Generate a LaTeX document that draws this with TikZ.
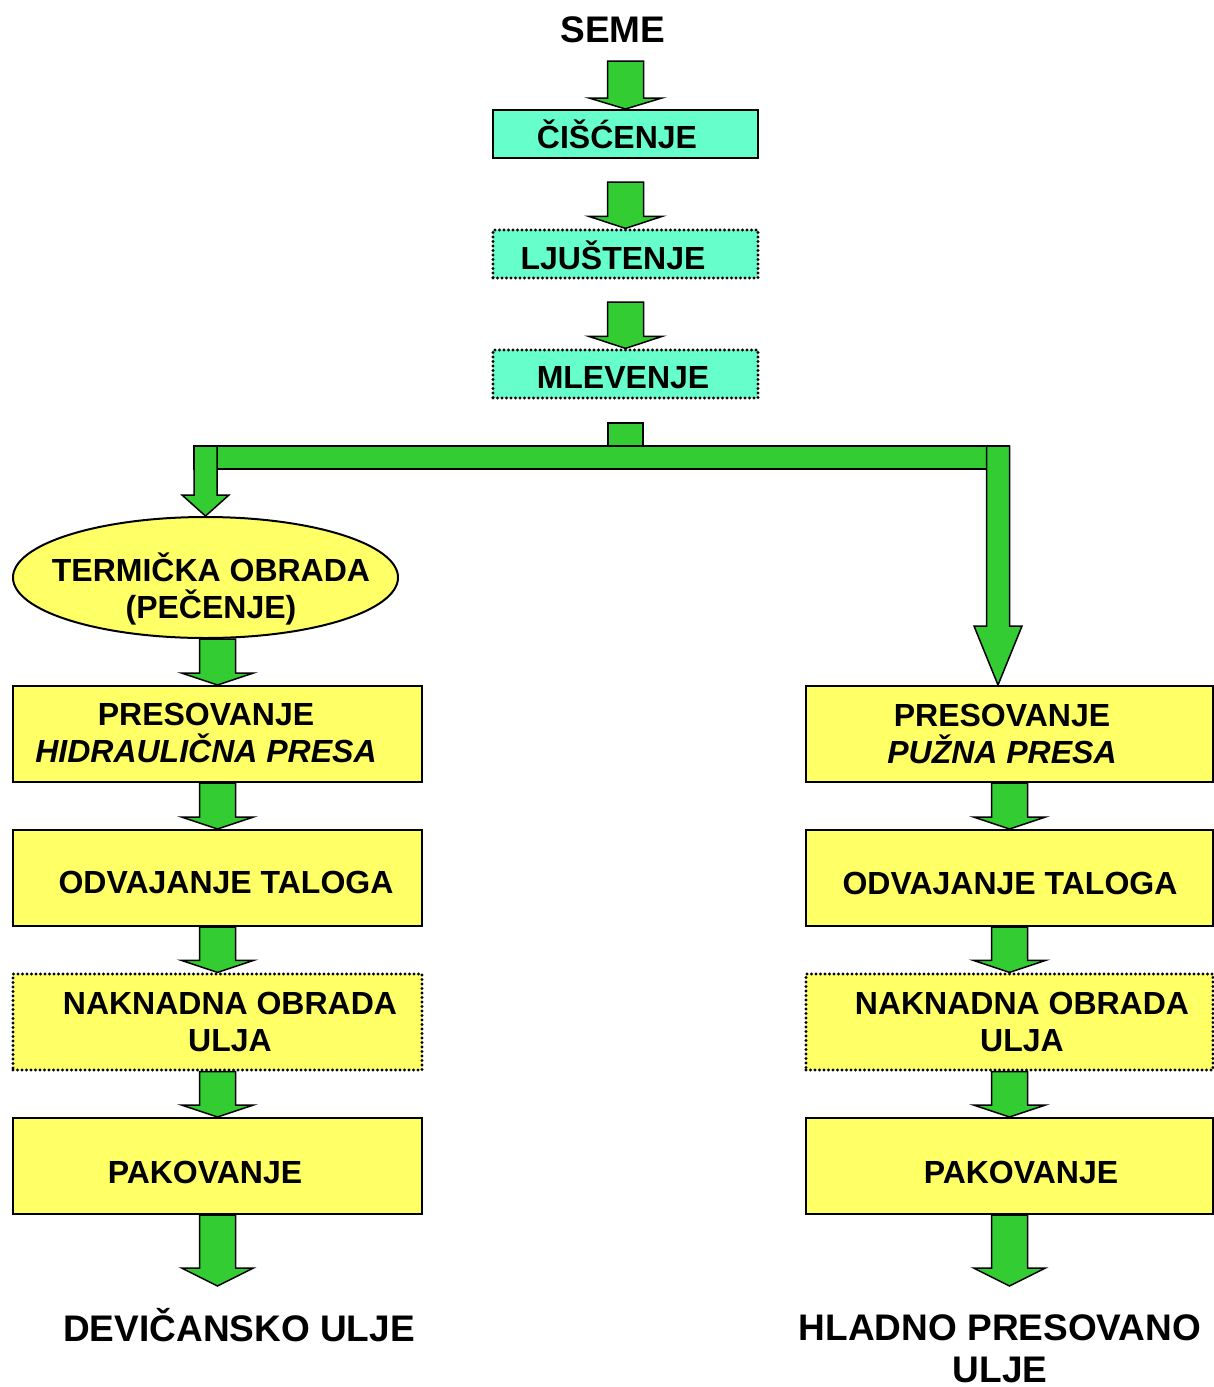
\documentclass[tikz,border=0pt]{standalone}
\usepackage{fontspec}
\setmainfont{Liberation Sans}
\usepackage{tikz}
\usetikzlibrary{shapes.geometric, calc}
\definecolor{mygreen}{RGB}{51,204,51}
\definecolor{mycyan}{RGB}{102,255,204}
\definecolor{myyellow}{RGB}{255,255,102}
\tikzset{
  box/.style={draw=black, line width=1pt, inner sep=0, rectangle},
  cbox/.style={box, fill=mycyan, minimum width=132.5pt, minimum height=24pt},
  ybox/.style={box, fill=myyellow, minimum width=204.5pt, minimum height=48pt},
  dotbox/.style={dash pattern=on 0pt off 2.25pt, line cap=round, line width=1.6pt},
  oval/.style={box, ellipse, fill=myyellow, minimum width=192.5pt, minimum height=60.5pt},
  txt/.style={anchor=base, align=center, inner sep=0, font=\fontsize{16pt}{18.25pt}\selectfont\bfseries},
  lbl/.style={txt, font=\fontsize{18.5pt}{21pt}\selectfont\bfseries},
  greenbody/.style={draw=black, line width=0.75pt, fill=mygreen, line join=miter}
}
% block arrow: #1 gives the top of the shaft, #2 the tip
\newcommand{\blockarrow}[5]{%
  \draw[greenbody] ($(#2 |- #1)+(-#3,0)$) -- ($(#2)+(-#3,-#5)$) -- ($(#2)+(-#4,-#5)$) -- (#2)
    -- ($(#2)+(#4,-#5)$) -- ($(#2)+(#3,-#5)$) -- ($(#2 |- #1)+(#3,0)$) -- cycle;}
\begin{document}
\begin{tikzpicture}[x=0.5pt, y=-0.5pt]
  \path[use as bounding box, fill=white] (0,0) rectangle (1214,1387);

  % Seed and preparation
  \node[lbl] (seme) at (613,42) {SEME};
  \node[cbox] (cisc) at (625.5,134) {};
  \node[txt] (cisc-t) at (617,148) {ČIŠĆENJE};
  \node[cbox, dotbox] (ljus) at (625.5,254) {};
  \node[txt] (ljus-t) at (613,269) {LJUŠTENJE};
  \node[cbox, dotbox] (mlev) at (625.5,374) {};
  \node[txt] (mlev-t) at (623,388) {MLEVENJE};

  \coordinate (a0) at (625.5,61);
  \coordinate (a1) at (625.5,182);
  \coordinate (a2) at (625.5,302);
  \blockarrow{a0}{cisc.north}{18}{36.5}{11}
  \blockarrow{a1}{ljus.north}{18}{36.5}{12}
  \blockarrow{a2}{mlev.north}{18}{36.5}{12}

  % Left branch (multi-line texts sit on their last baseline)
  \node[oval] (term) at (205.5,577.5) {};
  \node[txt] (term-t) at (211,618) {TERMIČKA OBRADA\\(PEČENJE)};
  \node[ybox] (presL) at (217.5,734) {};
  \node[txt] (presL-t) at (206,762) {PRESOVANJE\\\itshape HIDRAULIČNA PRESA};
  \node[ybox] (odvL) at (217.5,878) {};
  \node[txt] (odvL-t) at (226,893) {ODVAJANJE TALOGA};
  \node[ybox, dotbox] (nakL) at (217.5,1022) {};
  \node[txt] (nakL-t) at (230,1051) {NAKNADNA OBRADA\\ULJA};
  \node[ybox] (pakL) at (217.5,1166) {};
  \node[txt] (pakL-t) at (205,1183) {PAKOVANJE};
  \node[lbl] (devic) at (239,1341) {DEVIČANSKO ULJE};

  % Right branch
  \node[ybox, minimum width=203.5pt] (presR) at (1009.5,734) {};
  \node[txt] (presR-t) at (1002,763) {PRESOVANJE\\\itshape PUŽNA PRESA};
  \node[ybox, minimum width=203.5pt] (odvR) at (1009.5,878) {};
  \node[txt] (odvR-t) at (1010,894) {ODVAJANJE TALOGA};
  \node[ybox, dotbox, minimum width=203.5pt] (nakR) at (1009.5,1022) {};
  \node[txt] (nakR-t) at (1022,1051) {NAKNADNA OBRADA\\ULJA};
  \node[ybox, minimum width=203.5pt] (pakR) at (1009.5,1166) {};
  \node[txt] (pakR-t) at (1021,1183) {PAKOVANJE};
  \node[lbl] (hlad) at (1000,1382) {HLADNO PRESOVANO\\ULJE};

  % Split below milling
  \coordinate (split) at (625.5,446);
  \coordinate (rtip) at ($(presR.north)+(-11.5,0)$);
  \draw[greenbody] ($(split)+(-17.5,-23)$) rectangle ($(split)+(17.5,0)$);
  \draw[greenbody] ($(term.north |- split)+(-11.5,0)$) rectangle ($(rtip |- split)+(11.5,23)$);
  \blockarrow{split}{term.north}{11.5}{23.5}{21}
  \blockarrow{split}{rtip}{11.5}{24}{59}

  % Arrows down the columns
  \coordinate (endL) at (217.5,1286);
  \coordinate (endR) at (1009.5,1286);
  \blockarrow{term.south}{presL.north}{18}{36}{12}
  \blockarrow{presL.south}{odvL.north}{18}{36}{12}
  \blockarrow{odvL.south}{nakL.north}{18}{36}{12}
  \blockarrow{nakL.south}{pakL.north}{18}{36}{12}
  \blockarrow{pakL.south}{endL}{18}{36}{18}
  \blockarrow{presR.south}{odvR.north}{18}{36}{12}
  \blockarrow{odvR.south}{nakR.north}{18}{36}{12}
  \blockarrow{nakR.south}{pakR.north}{18}{36}{12}
  \blockarrow{pakR.south}{endR}{18}{36}{18}
\end{tikzpicture}
\end{document}
